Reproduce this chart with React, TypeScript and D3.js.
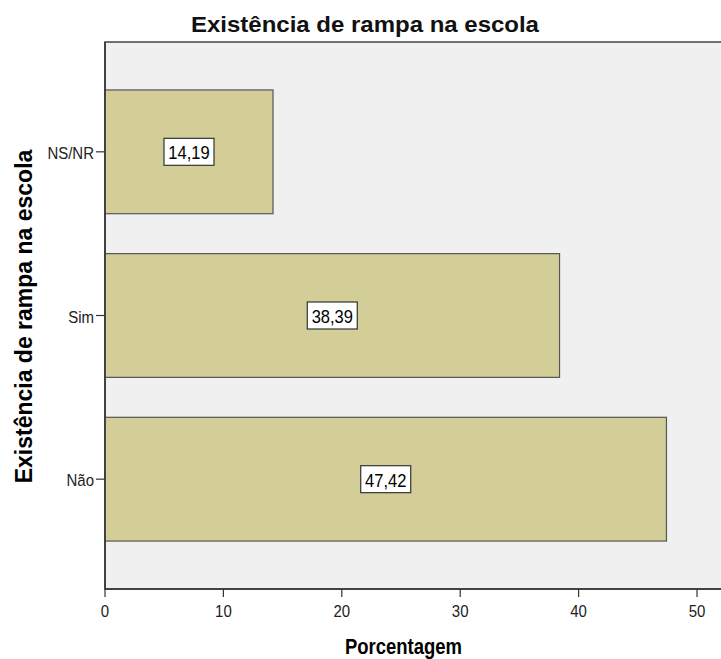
import * as d3 from 'd3';

const categories = ['NS/NR', 'Sim', 'Não'];
const values = [14.19, 38.39, 47.42];
const xTicks = [0, 10, 20, 30, 40, 50];

const W = 721;
const H = 659;
const left = 105;
const top = 42;
const bottom = 589;

// SPSS-like text: a bit taller than it is wide
function Label({ x, y, size, k = 1, anchor = 'middle', bold = false, fill = '#000', children }: any) {
  return (
    <text
      transform={`translate(${x},${y}) scale(1,${k})`}
      textAnchor={anchor}
      fontSize={size}
      fontWeight={bold ? 'bold' : 'normal'}
      fill={fill}
    >
      {children}
    </text>
  );
}

export default function App() {
  const x = d3.scaleLinear().domain([0, 52]).range([left, left + 52 * 11.84]);
  const y = d3.scaleBand<string>()
    .domain(categories)
    .range([top, bottom])
    .paddingInner(0.244)
    .paddingOuter(0.293);

  const font = 'Arial, "Liberation Sans", sans-serif';

  return (
    <svg width={W} height={H} style={{ position: 'absolute', left: 0, top: 0 }} fontFamily={font}>
      <rect x={0} y={0} width={W} height={H} fill="#ffffff" />
      <Label x={365} y={32} size={24} k={0.95} bold fill="#111">Existência de rampa na escola</Label>
      <rect x={left} y={top} width={W - left + 5} height={bottom - top} fill="#f0f0f0" stroke="#444" strokeWidth={1.5} />

      {categories.map((c, i) => {
        const by = y(c) as number;
        const bw = x(values[i]) - left;
        const cx = left + bw / 2;
        const cy = by + y.bandwidth() / 2;
        const label = values[i].toFixed(2).replace('.', ',');
        return (
          <g key={c}>
            <rect x={left} y={by} width={bw} height={y.bandwidth()} fill="#d3ce98" stroke="#555" strokeWidth={1.2} />
            <rect x={cx - 25} y={cy - 13.5} width={50} height={27} fill="#fff" stroke="#333" strokeWidth={1.2} />
            <Label x={cx} y={cy + 7.5} size={16.5} k={1.15}>{label}</Label>
            <line x1={left - 9} x2={left} y1={cy} y2={cy} stroke="#333" strokeWidth={1.2} />
            <Label x={left - 11} y={cy + 7} size={15} k={1.12} anchor="end" fill="#222">{c}</Label>
          </g>
        );
      })}

      <line x1={left} x2={left} y1={top} y2={bottom} stroke="#333" strokeWidth={1.5} />
      <line x1={left} x2={W} y1={bottom} y2={bottom} stroke="#333" strokeWidth={1.5} />
      {xTicks.map(t => (
        <g key={t}>
          <line x1={x(t)} x2={x(t)} y1={bottom} y2={bottom + 8} stroke="#333" strokeWidth={1.2} />
          <Label x={x(t)} y={617} size={15} k={1.1} fill="#222">{t}</Label>
        </g>
      ))}

      <Label x={403.5} y={654} size={18.5} k={1.15} bold>Porcentagem</Label>
      <text transform={`translate(32,${(top + bottom) / 2 + 1}) rotate(-90)`} textAnchor="middle" fontSize={23} fontWeight="bold" fill="#000">
        Existência de rampa na escola
      </text>
    </svg>
  );
}
